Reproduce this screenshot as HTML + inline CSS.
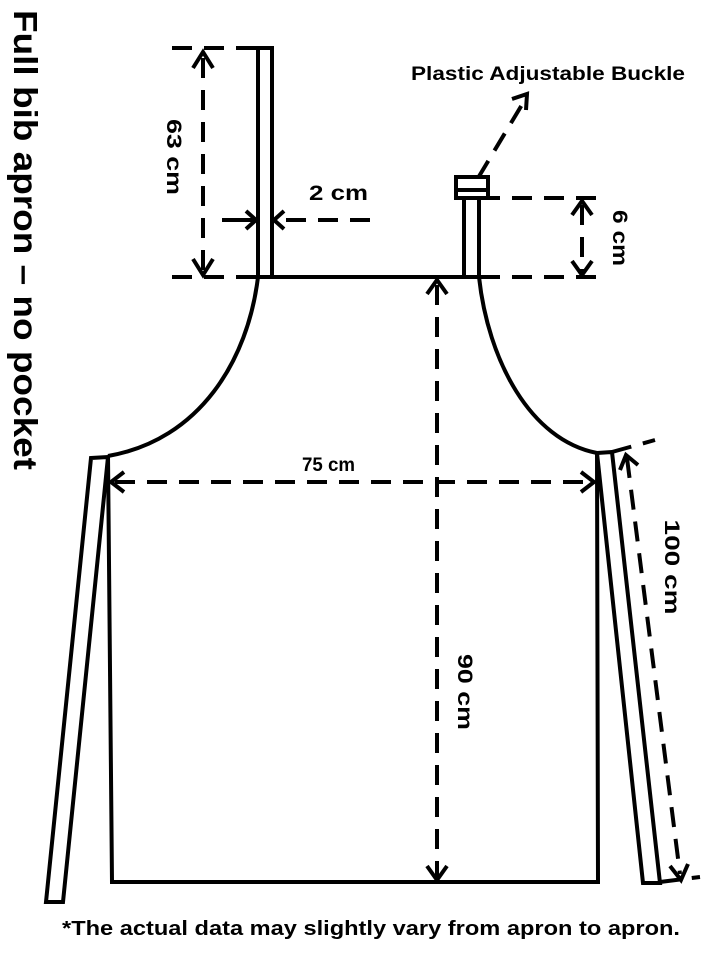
<!DOCTYPE html>
<html><head><style>body{margin:0;background:#fff}svg{display:block}</style></head><body>
<svg width="720" height="960" viewBox="0 0 720 960" xmlns="http://www.w3.org/2000/svg">
<g fill="none" stroke="#000" stroke-width="4">
<line x1="258" y1="277" x2="479" y2="277"/>
<path d="M258 277 C248 360 200 440 108 456"/>
<path d="M479 277 C488 360 530 440 597 453"/>
<polyline points="108,456 112,882 598,882 597,453"/>
<polyline points="258,277 258,48 272,48 272,277"/>
<polyline points="464,277 464,198 479,198 479,277"/>
<rect x="456" y="177" width="32" height="21"/>
<line x1="458" y1="190" x2="486" y2="190"/>
<polygon points="91,458 108,457 63,902 46,902"/>
<polygon points="597,453 612,452 660,883 643,883"/>
</g>
<g fill="none" stroke="#000" stroke-width="4" stroke-dasharray="20,12">
<line x1="172" y1="48" x2="256" y2="48"/>
<line x1="172" y1="277" x2="256" y2="277"/>
<line x1="203" y1="58" x2="203" y2="270"/>
<line x1="370" y1="220" x2="282" y2="220"/>
<line x1="480" y1="198" x2="605" y2="198"/>
<line x1="480" y1="277" x2="605" y2="277"/>
<line x1="582" y1="205" x2="582" y2="272"/>
<line x1="437" y1="285" x2="437" y2="878"/>
<line x1="115" y1="482" x2="592" y2="482"/>
<line x1="478" y1="178" x2="526" y2="98"/>
<line x1="612" y1="452" x2="655" y2="440"/>
<line x1="660" y1="882" x2="700" y2="877"/>
<line x1="627" y1="458" x2="680" y2="874"/>
</g>
<g fill="none" stroke="#000" stroke-width="4">
<polyline points="193,68 203,52 213,68"/>
<polyline points="193,259 203,275 213,259"/>
<line x1="222" y1="220" x2="256" y2="220"/>
<polyline points="246,211 256,220 246,229"/>
<polyline points="284,211 274,220 284,229"/>
<polyline points="572,215 582,201 592,215"/>
<polyline points="572,261 582,275 592,261"/>
<polyline points="427,294 437,280 447,294"/>
<polyline points="427,866 437,880 447,866"/>
<polyline points="124,472 111,482 124,492"/>
<polyline points="581,472 594,482 581,492"/>
<polyline points="512,99 527,94 526,110"/>
<polyline points="620,470 626,455 638,465"/>
<polyline points="670,866 681,880 688,864"/>
</g>
<g font-family="Liberation Sans, sans-serif" font-weight="bold" fill="#000">
<text x="309" y="200" font-size="21" textLength="59" lengthAdjust="spacingAndGlyphs">2 cm</text>
<text x="302" y="471" font-size="19" textLength="53" lengthAdjust="spacingAndGlyphs">75 cm</text>
<text x="411" y="80" font-size="19" textLength="274" lengthAdjust="spacingAndGlyphs">Plastic Adjustable Buckle</text>
<text transform="translate(167,157) rotate(90)" font-size="21" text-anchor="middle" textLength="76" lengthAdjust="spacingAndGlyphs">63 cm</text>
<text transform="translate(613,238) rotate(90)" font-size="21" text-anchor="middle" textLength="56" lengthAdjust="spacingAndGlyphs">6 cm</text>
<text transform="translate(458,692) rotate(90)" font-size="21" text-anchor="middle" textLength="76" lengthAdjust="spacingAndGlyphs">90 cm</text>
<text transform="translate(665,567) rotate(90)" font-size="21" text-anchor="middle" textLength="95" lengthAdjust="spacingAndGlyphs">100 cm</text>
<text transform="translate(14,240) rotate(90)" font-size="33" text-anchor="middle" textLength="460" lengthAdjust="spacingAndGlyphs">Full bib apron – no pocket</text>
<text x="62" y="935" font-size="20" textLength="618" lengthAdjust="spacingAndGlyphs">*The actual data may slightly vary from apron to apron.</text>
</g>
</svg>
</body></html>
